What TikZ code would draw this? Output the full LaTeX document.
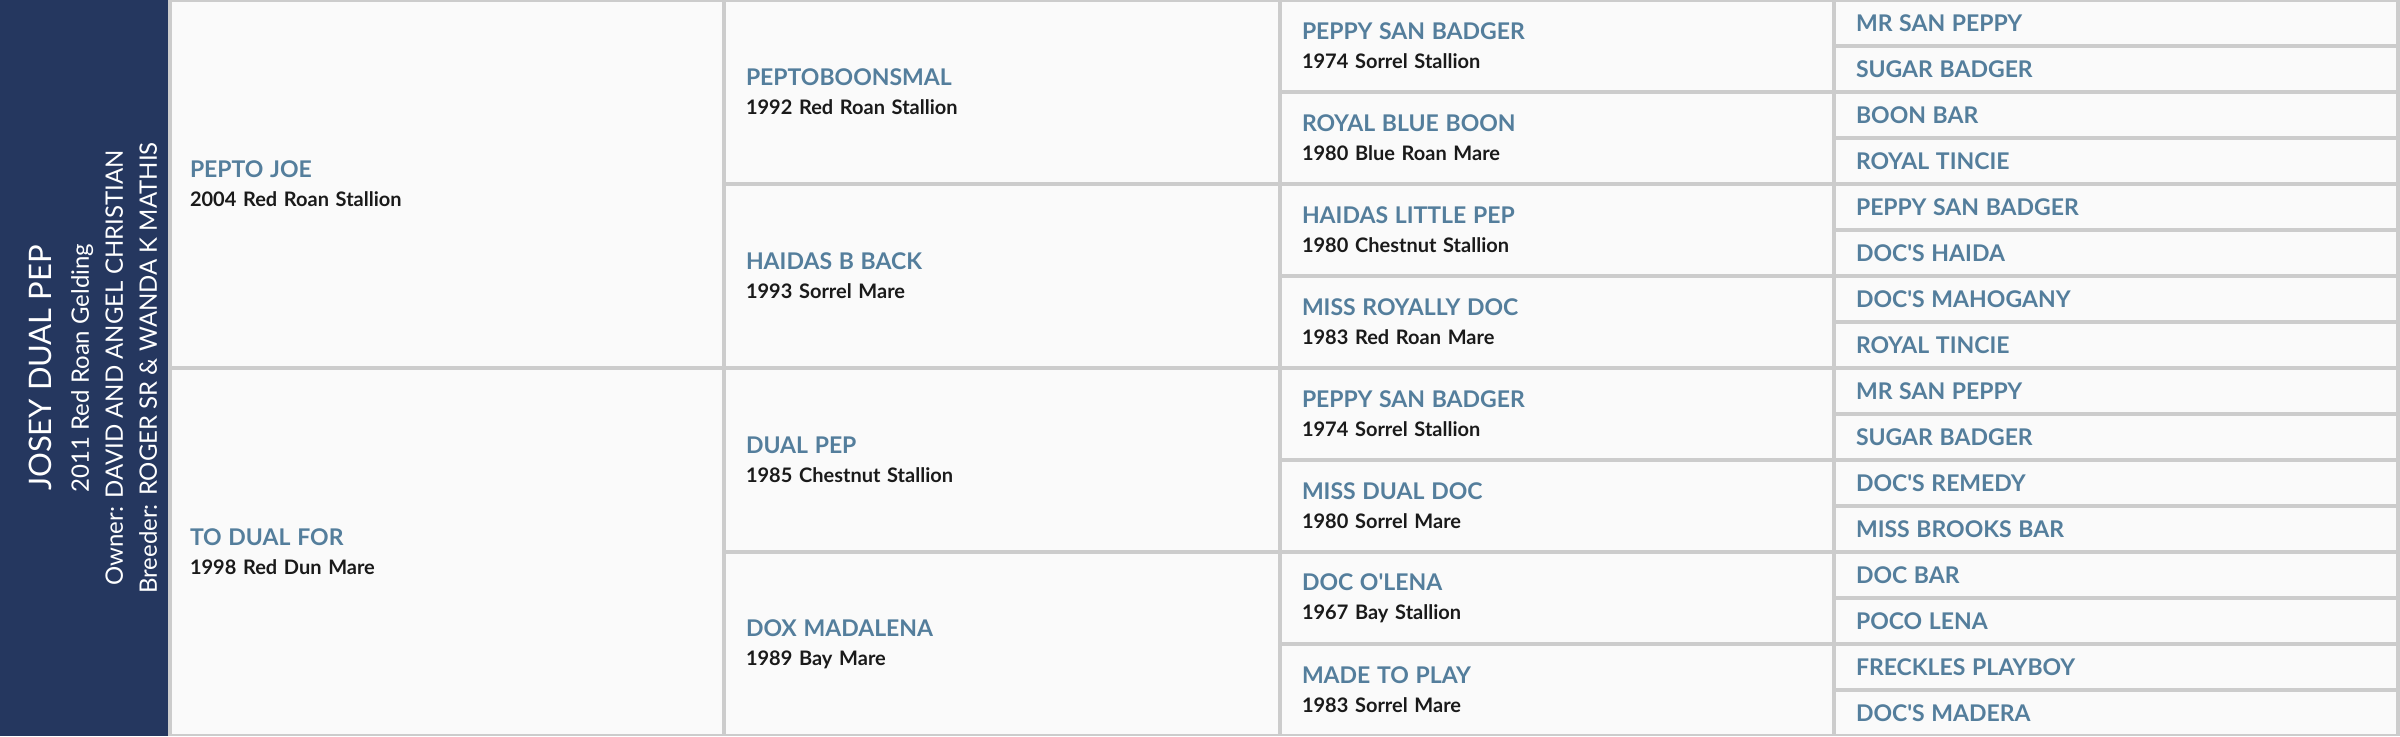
\documentclass[tikz,border=0pt]{standalone}
\usepackage{fontspec}
\setmainfont{Lato}
\newfontfamily\bandfont{Lato}
\usepackage{tikz}
\usetikzlibrary{positioning}
\definecolor{navy}{HTML}{25375F}
\definecolor{horseblue}{HTML}{547E9C}
\definecolor{gridgray}{HTML}{CCCCCC}
\definecolor{cellbg}{HTML}{FAFAFA}
\definecolor{yeartext}{HTML}{1A1A1A}
\newcommand{\hname}[1]{{\fontsize{11.5}{14.5}\selectfont\bfseries\color{horseblue}#1}}
\newcommand{\hyear}[1]{{\bfseries\color{yeartext}#1}}
\tikzset{
    x=1pt, y=-1pt, % one unit is one point, y runs down
    cell/.style={rectangle, fill=cellbg, inner xsep=10pt, inner ysep=0pt, align=left,
        font=\fontsize{10}{14.5}\selectfont},
    gen1/.style={cell, inner xsep=9pt, minimum width=275pt, text width=257pt, minimum height=182pt},
    gen2/.style={cell, minimum width=276pt, text width=256pt, minimum height=90pt},
    gen3/.style={cell, minimum width=275pt, text width=255pt, minimum height=44pt},
    gen4/.style={cell, minimum width=280pt, text width=260pt, minimum height=21pt},
    band/.style={rectangle, fill=navy, minimum width=84pt, minimum height=368pt, inner sep=0pt},
    subject/.style={text=white, align=center, inner sep=0pt, font=\bandfont\fontsize{12}{17}\selectfont},
}

\begin{document}
\begin{tikzpicture}
    % Frame
    \useasboundingbox (0,0) rectangle (1200,368);
    \fill[gridgray] (0,0) rectangle (1200,368);
    \node[band] (band) at (42,184) {};
    \node[subject, rotate=90] (subject) at (46.6,184)
        {{\fontsize{15.5}{17}\selectfont JOSEY DUAL PEP}\\[1.5pt]
         2011 Red Roan Gelding\\
         Owner: DAVID AND ANGEL CHRISTIAN\\
         Breeder: ROGER SR \& WANDA K MATHIS};

    % Parents
    \node[gen1] (s) at (223.5,92) {\hname{PEPTO JOE}\\\hyear{2004 Red Roan Stallion}};
    \node[gen1] (d) at (223.5,276) {\hname{TO DUAL FOR}\\\hyear{1998 Red Dun Mare}};

    % Grandparents
    \node[gen2] (ss) at (501,46) {\hname{PEPTOBOONSMAL}\\\hyear{1992 Red Roan Stallion}};
    \node[gen2] (sd) at (501,138) {\hname{HAIDAS B BACK}\\\hyear{1993 Sorrel Mare}};
    \node[gen2] (ds) at (501,230) {\hname{DUAL PEP}\\\hyear{1985 Chestnut Stallion}};
    \node[gen2] (dd) at (501,322) {\hname{DOX MADALENA}\\\hyear{1989 Bay Mare}};

    % Great grandparents
    \node[gen3] (sss) at (778.5,23) {\hname{PEPPY SAN BADGER}\\\hyear{1974 Sorrel Stallion}};
    \node[gen3] (ssd) at (778.5,69) {\hname{ROYAL BLUE BOON}\\\hyear{1980 Blue Roan Mare}};
    \node[gen3] (sds) at (778.5,115) {\hname{HAIDAS LITTLE PEP}\\\hyear{1980 Chestnut Stallion}};
    \node[gen3] (sdd) at (778.5,161) {\hname{MISS ROYALLY DOC}\\\hyear{1983 Red Roan Mare}};
    \node[gen3] (dss) at (778.5,207) {\hname{PEPPY SAN BADGER}\\\hyear{1974 Sorrel Stallion}};
    \node[gen3] (dsd) at (778.5,253) {\hname{MISS DUAL DOC}\\\hyear{1980 Sorrel Mare}};
    \node[gen3] (dds) at (778.5,299) {\hname{DOC O\textquotesingle LENA}\\\hyear{1967 Bay Stallion}};
    \node[gen3] (ddd) at (778.5,345) {\hname{MADE TO PLAY}\\\hyear{1983 Sorrel Mare}};

    % Great great grandparents
    \node[gen4] (ssss) at (1058,11.5) {\hname{MR SAN PEPPY}};
    \node[gen4] (sssd) at (1058,34.5) {\hname{SUGAR BADGER}};
    \node[gen4] (ssds) at (1058,57.5) {\hname{BOON BAR}};
    \node[gen4] (ssdd) at (1058,80.5) {\hname{ROYAL TINCIE}};
    \node[gen4] (sdss) at (1058,103.5) {\hname{PEPPY SAN BADGER}};
    \node[gen4] (sdsd) at (1058,126.5) {\hname{DOC\textquotesingle S HAIDA}};
    \node[gen4] (sdds) at (1058,149.5) {\hname{DOC\textquotesingle S MAHOGANY}};
    \node[gen4] (sddd) at (1058,172.5) {\hname{ROYAL TINCIE}};
    \node[gen4] (dsss) at (1058,195.5) {\hname{MR SAN PEPPY}};
    \node[gen4] (dssd) at (1058,218.5) {\hname{SUGAR BADGER}};
    \node[gen4] (dsds) at (1058,241.5) {\hname{DOC\textquotesingle S REMEDY}};
    \node[gen4] (dsdd) at (1058,264.5) {\hname{MISS BROOKS BAR}};
    \node[gen4] (ddss) at (1058,287.5) {\hname{DOC BAR}};
    \node[gen4] (ddsd) at (1058,310.5) {\hname{POCO LENA}};
    \node[gen4] (ddds) at (1058,333.5) {\hname{FRECKLES PLAYBOY}};
    \node[gen4] (dddd) at (1058,356.5) {\hname{DOC\textquotesingle S MADERA}};
\end{tikzpicture}
\end{document}
